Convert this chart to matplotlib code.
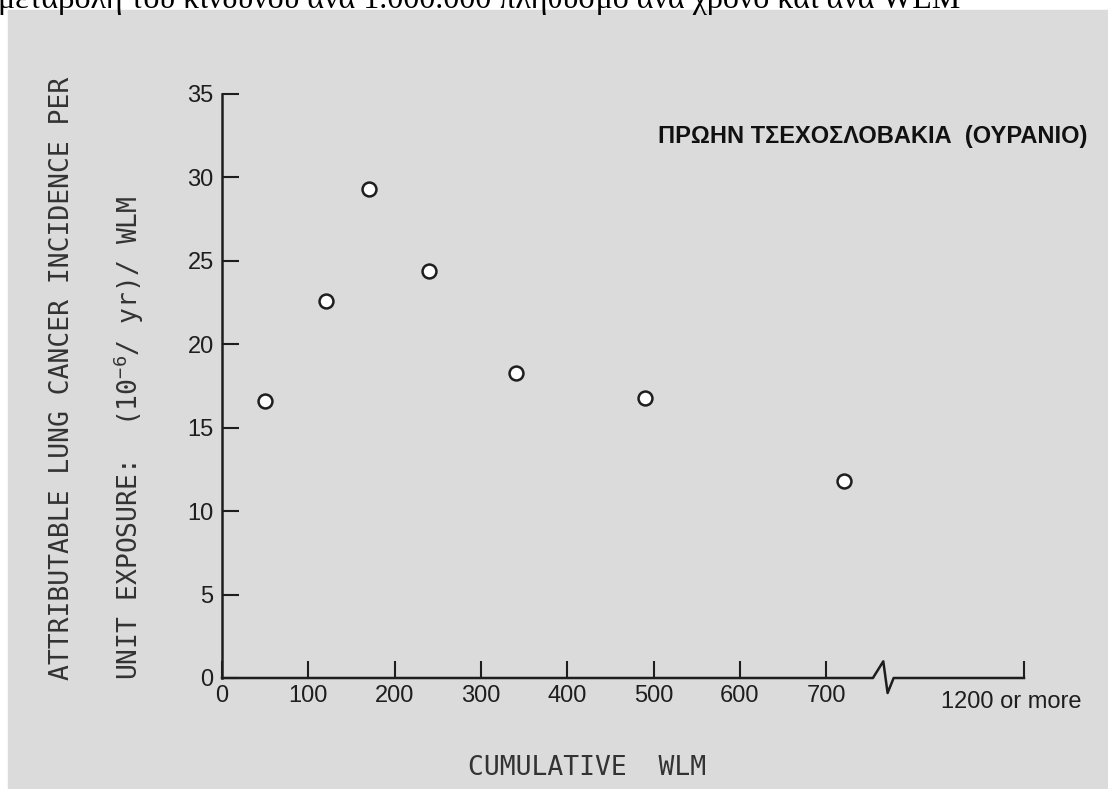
import matplotlib
matplotlib.use("Agg")
import matplotlib.pyplot as plt
from matplotlib.patches import Rectangle

plt.rcParams['mathtext.fontset'] = 'custom'
plt.rcParams['mathtext.rm'] = 'DejaVu Sans Mono'
plt.rcParams['mathtext.it'] = 'DejaVu Sans Mono'

# cumulative WLM (linear part of the axis) and attributable risk per WLM
wlm = [50, 120, 170, 240, 340, 490, 720]
risk = [16.6, 22.6, 29.3, 24.4, 18.3, 16.8, 11.8]

xticks = [0, 100, 200, 300, 400, 500, 600, 700]
xtick_labels = ['0', '100', '200', '300', '400', '500', '600', '700']
yticks = [0, 5, 10, 15, 20, 25, 30, 35]
last_label = '1200 or more'

caption = 'μεταβολή του κινδύνου ανά 1.000.000 πληθυσμό ανά χρόνο και ανά WLM'
country = 'ΠΡΩΗΝ ΤΣΕΧΟΣΛΟΒΑΚΙΑ  (ΟΥΡΑΝΙΟ)'

# axis geometry (data units)
X_END = 929
BREAK = [(754, 0), (766, 1.0), (771, -0.9), (778, 0)]

W, H = 1108, 789
fig = plt.figure(figsize=(W / 100, H / 100), dpi=100)
fig.patch.set_facecolor('white')

# gray scanned page
fig.patches.append(Rectangle((8 / W, 0), 1 - 8 / W, (H - 10) / H,
                             transform=fig.transFigure, color='#dbdbdb', zorder=-10))

fig.text(-2 / W, 1 - 8 / H, caption, family='Liberation Serif', fontsize=23,
         ha='left', va='baseline', color='black')

ax = fig.add_axes([222 / W, (H - 678) / H, (1024 - 222) / W, (678 - 94) / H])
ax.set_facecolor('none')
ax.set_zorder(2)
ax.set_xlim(0, X_END)
ax.set_ylim(0, 35)

ink = '#1e1e1e'
for s in ['top', 'right', 'bottom']:
    ax.spines[s].set_visible(False)
ax.spines['left'].set_color(ink)
ax.spines['left'].set_linewidth(1.8)

# x axis with break mark
bx = [0] + [p[0] for p in BREAK] + [X_END]
by = [0] + [p[1] for p in BREAK] + [0]
ax.plot(bx, by, color=ink, lw=1.8, clip_on=False, zorder=3)

ax.set_xticks(xticks + [X_END])
ax.set_xticklabels(xtick_labels + [''])
ax.set_yticks(yticks)
ax.tick_params(direction='in', length=12, width=1.5, color=ink,
               labelsize=17, labelcolor=ink)
ax.tick_params(axis='x', pad=5)
ax.tick_params(axis='y', pad=6)
for lab in ax.get_xticklabels() + ax.get_yticklabels():
    lab.set_family('Liberation Sans')

ax.text(914, -0.75, last_label, family='Liberation Sans',
        fontsize=17, color=ink, ha='center', va='top')

ax.plot(wlm, risk, 'o', ms=10, mfc='white', mec=ink, mew=1.8,
        clip_on=False, zorder=4)

fig.text(1087 / W, 1 - 137 / H, country, family='Liberation Sans',
         fontweight='bold', fontsize=17, ha='right', va='center', color='#111111')

mono = 'DejaVu Sans Mono'
fig.text(62 / W, (H - 680) / H, 'ATTRIBUTABLE LUNG CANCER INCIDENCE PER',
         family=mono, fontsize=19, rotation=90, ha='center', va='bottom', color='#333333')
fig.text(129 / W, (H - 680) / H, r'UNIT EXPOSURE:  (10$^{-6}$/ yr)/ WLM',
         family=mono, fontsize=19, rotation=90, ha='center', va='bottom', color='#333333')
fig.text(468 / W, 1 - 768 / H, 'CUMULATIVE  WLM', family=mono, fontsize=19,
         ha='left', va='center', color='#333333')

fig.savefig('out.png', dpi=100)
